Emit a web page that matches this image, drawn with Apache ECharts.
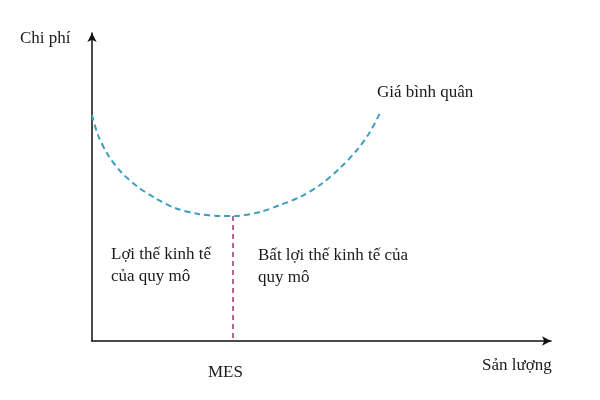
<!DOCTYPE html>
<html>
<head>
<meta charset="utf-8">
<script src="https://cdn.jsdelivr.net/npm/echarts@6/dist/echarts.min.js"></script>
<style>html,body{margin:0;padding:0;background:#fff;}#c{width:600px;height:400px;}</style>
</head>
<body>
<div id="c"></div>
<script>
// Average cost curve (output, cost) in chart units
const curveX = [0, 6, 16, 29, 46, 63, 83, 106, 129, 143, 168, 188, 208, 228, 248, 265, 278, 288];
const curveY = [226, 206, 186, 169, 154, 143, 133, 127, 125, 125, 129, 136, 144, 156, 173, 191, 209, 228];
// MES vertical line
const mesX = [141, 141];
const mesY = [125, 0];
// Labels
const yName = 'Chi phí';
const xName = 'Sản lượng';
const curveName = 'Giá bình quân';
const leftText = 'Lợi thế kinh tế\ncủa quy mô';
const rightText = 'Bất lợi thế kinh tế của\nquy mô';
const mesText = 'MES';

const font = '"Liberation Serif", "Times New Roman", serif';
const chart = echarts.init(document.getElementById('c'));
const txt = (text, x, y) => ({
  type: 'text', left: x, top: y,
  style: { text: text, font: '17px ' + font, fill: '#1a1a1a', lineHeight: 22 }
});
chart.setOption({
  animation: false,
  backgroundColor: '#fff',
  grid: { left: 92, right: 49, top: 33, bottom: 59 },
  xAxis: {
    type: 'value', min: 0, max: 459,
    axisLine: { show: true, symbol: ['none', 'arrow'], symbolSize: [7, 9], lineStyle: { color: '#111', width: 1.5 } },
    axisTick: { show: false }, axisLabel: { show: false }, splitLine: { show: false }
  },
  yAxis: {
    type: 'value', min: 0, max: 308,
    axisLine: { show: true, symbol: ['none', 'arrow'], symbolSize: [7, 9], lineStyle: { color: '#111', width: 1.5 } },
    axisTick: { show: false }, axisLabel: { show: false }, splitLine: { show: false }
  },
  series: [
    {
      type: 'line', smooth: 0.3, symbol: 'none',
      data: curveX.map((x, i) => [x, curveY[i]]),
      lineStyle: { color: '#3a9fc0', width: 2, type: [6, 4] }
    },
    {
      type: 'line', symbol: 'none',
      data: mesX.map((x, i) => [x, mesY[i]]),
      lineStyle: { color: '#9c2f78', width: 1.5, type: [5, 4] }
    }
  ],
  graphic: [
    txt(yName, 20, 28),
    txt(curveName, 377, 82),
    txt(leftText, 111, 244),
    txt(rightText, 258, 245),
    txt(mesText, 208, 362),
    txt(xName, 482, 355)
  ]
});
</script>
</body>
</html>
